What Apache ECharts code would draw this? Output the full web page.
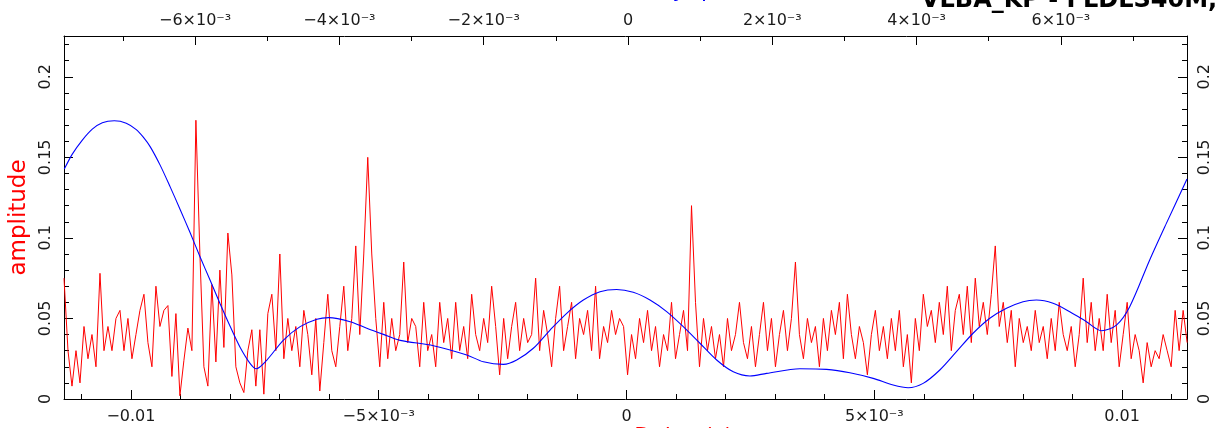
<!DOCTYPE html>
<html><head><meta charset="utf-8">
<script src="https://cdn.jsdelivr.net/npm/echarts@6/dist/echarts.min.js"></script>
<style>html,body{margin:0;padding:0;background:#fff}#c{width:1215px;height:428px}</style>
</head><body><div id="c"></div><script>
// red: amplitude sampled evenly across the bottom (delay) axis
const redAmp = [0.075,0.03,0.008,0.03,0.01,0.045,0.025,0.04,0.02,0.078,0.03,0.045,0.03,0.05,0.055,0.03,0.05,0.025,0.04,0.055,0.065,0.035,0.02,0.07,0.045,0.055,0.058,0.014,0.053,0.002,0.024,0.044,0.03,0.173,0.09,0.02,0.008,0.071,0.023,0.08,0.032,0.103,0.077,0.02,0.01,0.004,0.03,0.043,0.008,0.043,0.003,0.053,0.065,0.03,0.09,0.025,0.05,0.03,0.045,0.02,0.055,0.04,0.015,0.05,0.005,0.035,0.065,0.03,0.02,0.045,0.07,0.03,0.05,0.095,0.04,0.09,0.15,0.09,0.05,0.02,
0.06,0.025,0.05,0.03,0.04,0.085,0.035,0.05,0.045,0.02,0.06,0.03,0.04,0.02,0.06,0.035,0.05,0.025,0.06,0.03,0.045,0.025,0.065,0.04,0.03,0.05,0.035,0.07,0.045,0.015,0.05,0.025,0.045,0.06,0.03,0.05,0.035,0.04,0.075,0.03,0.055,0.04,0.02,0.05,0.07,0.03,0.045,0.06,0.025,0.05,0.04,0.055,0.03,0.07,0.025,0.045,0.035,0.055,0.04,0.05,0.045,0.015,0.04,0.025,0.05,0.035,0.055,0.03,0.045,0.02,0.04,0.03,0.06,0.025,0.04,0.055,0.03,0.12,0.06,0.02,0.05,0.03,0.045,0.025,0.04,0.02,0.05,0.03,0.04,0.06,0.035,0.025,0.045,0.02,0.04,0.06,0.03,0.05,0.02,0.04,0.055,0.03,0.05,0.085,0.04,0.025,0.05,0.035,0.045,0.02,0.05,0.03,0.055,0.04,0.06,0.025,0.065,0.04,0.025,0.045,0.035,0.015,0.04,0.055,0.03,0.045,0.025,0.05,0.03,0.055,0.02,0.04,0.01,0.05,0.03,0.065,0.045,0.055,0.035,0.06,0.04,0.07,0.03,0.055,0.065,0.04,0.07,0.035,0.075,0.045,0.06,0.04,0.065,0.095,0.045,0.06,0.035,0.055,0.02,0.05,0.035,0.045,0.03,0.055,0.035,0.045,0.025,0.05,0.03,0.06,0.04,0.03,0.045,0.02,0.04,0.075,0.035,0.06,0.03,0.05,0.03,0.065,0.035,0.055,0.02,0.04,0.06,0.025,0.04,0.03,0.01,0.035,0.02,0.03,0.025,0.04,0.03,0.02,0.055,0.03,0.055,0.035];
const redDelayFirst = -0.01135;
const redDelayStep = 0.00008065;

// blue: smooth curve against the top axis
const blueRate = [-0.007813,-0.007702,-0.007563,-0.007425,-0.007286,-0.007120,-0.006954,-0.006815,-0.006718,-0.006621,-0.006483,-0.006344,-0.006206,-0.006067,-0.005929,-0.005790,-0.005652,-0.005513,-0.005375,-0.005236,-0.005153,-0.005005,-0.004775,-0.004544,-0.004312,-0.004146,-0.003851,-0.003620,-0.003390,-0.003158,-0.002697,-0.002234,-0.002004,-0.001727,-0.001542,-0.001312,-0.001080,-0.000849,-0.000619,-0.000388,-0.000157,0.000073,0.000305,0.000536,0.000766,0.000997,0.001229,0.001459,0.001690,0.001921,0.002383,0.002752,0.003075,0.003398,0.003675,0.003883,0.004091,0.004322,0.004553,0.004783,0.005015,0.005246,0.005476,0.005661,0.005891,0.006123,0.006354,0.006562,0.006770,0.006954,0.007231,0.007462,0.007748];
const blueAmp = [0.1427,0.1520,0.1607,0.1675,0.1715,0.1727,0.1712,0.1672,0.1625,0.1565,0.1450,0.1315,0.1175,0.1030,0.0880,0.0735,0.0590,0.0450,0.0320,0.0220,0.0188,0.0242,0.0366,0.0449,0.0495,0.0505,0.0480,0.0439,0.0401,0.0364,0.0331,0.0273,0.0231,0.0215,0.0242,0.0315,0.0428,0.0532,0.0614,0.0666,0.0680,0.0662,0.0614,0.0542,0.0449,0.0346,0.0242,0.0169,0.0143,0.0159,0.0188,0.0184,0.0163,0.0128,0.0087,0.0070,0.0097,0.0180,0.0294,0.0408,0.0501,0.0563,0.0604,0.0614,0.0594,0.0542,0.0480,0.0424,0.0459,0.0573,0.0863,0.1090,0.1365];

const bottomRange = [-0.01135, 0.01131];
const topRange = [-0.007817, 0.007748];
const yRange = [0, 0.2253];

const bottomMajor = [-0.01, -0.005, 0, 0.005, 0.01];
const bottomLabels = ['\u22120.01', '\u22125\u00d710\u207b\u00b3', '0', '5\u00d710\u207b\u00b3', '0.01'];
const bottomMinor = [-0.011,-0.009,-0.008,-0.007,-0.006,-0.004,-0.003,-0.002,-0.001,0.001,0.002,0.003,0.004,0.006,0.007,0.008,0.009,0.011];
const topMajor = [-0.006, -0.004, -0.002, 0, 0.002, 0.004, 0.006];
const topLabels = ['\u22126\u00d710\u207b\u00b3','\u22124\u00d710\u207b\u00b3','\u22122\u00d710\u207b\u00b3','0','2\u00d710\u207b\u00b3','4\u00d710\u207b\u00b3','6\u00d710\u207b\u00b3'];
const topMinor = [-0.007,-0.005,-0.003,-0.001,0.001,0.003,0.005,0.007];
const yMajor = [0, 0.05, 0.1, 0.15, 0.2];
const yLabels = ['0', '0.05', '0.1', '0.15', '0.2'];
const yMinor = [0.01,0.02,0.03,0.04,0.06,0.07,0.08,0.09,0.11,0.12,0.13,0.14,0.16,0.17,0.18,0.19,0.21,0.22];

const titleText = 'VLBA_KP - FLDLS40M, ';
const topAxisTitle = 'Delay (ps/s)';
const bottomAxisTitle = 'Delay (s)';
const yAxisTitle = 'amplitude';

const FONT = 'DejaVu Sans';
const LBL = { color: '#1a1a1a', fontFamily: FONT, fontSize: 16 };

function pick(vals, labels) {
  return function (v) {
    let b = 0;
    for (let i = 1; i < vals.length; i++) if (Math.abs(vals[i] - v) < Math.abs(vals[b] - v)) b = i;
    return labels[b];
  };
}
function xAx(pos, range, ticks, len, labels, showLine, margin) {
  return {
    type: 'value', position: pos, min: range[0], max: range[1],
    splitLine: { show: false },
    axisLine: { show: showLine, onZero: false, lineStyle: { color: '#000', width: 1 } },
    axisTick: { show: true, inside: true, length: len, customValues: ticks, lineStyle: { color: '#000', width: 1 } },
    axisLabel: labels ? Object.assign({ show: true, customValues: ticks, margin: margin, formatter: pick(ticks, labels) }, LBL) : { show: false }
  };
}
function yAx(pos, ticks, len, labels, showLine) {
  return {
    type: 'value', position: pos, min: yRange[0], max: yRange[1],
    splitLine: { show: false },
    axisLine: { show: showLine, onZero: false, lineStyle: { color: '#000', width: 1 } },
    axisTick: { show: true, inside: true, length: len, customValues: ticks, lineStyle: { color: '#000', width: 1 } },
    axisLabel: labels ? Object.assign({ show: true, customValues: ticks, rotate: 90, margin: 10, formatter: pick(ticks, labels) }, LBL) : { show: false }
  };
}

const redData = redAmp.map((a, i) => [redDelayFirst + i * redDelayStep, a]);
const blueData = blueRate.map((r, i) => [r, blueAmp[i]]);

const chart = echarts.init(document.getElementById('c'), null, { renderer: 'canvas' });
chart.setOption({
  animation: false,
  backgroundColor: '#fff',
  grid: { left: 64, right: 28, top: 36, bottom: 29, containLabel: false },
  xAxis: [
    xAx('bottom', bottomRange, bottomMajor, 9, bottomLabels, true, 10),
    xAx('bottom', bottomRange, bottomMinor, 5, null, false, 0),
    xAx('top', topRange, topMajor, 9, topLabels, true, 7),
    xAx('top', topRange, topMinor, 5, null, false, 0)
  ],
  yAxis: [
    yAx('left', yMajor, 9, yLabels, true),
    yAx('left', yMinor, 5, null, false),
    yAx('right', yMajor, 9, yLabels, true),
    yAx('right', yMinor, 5, null, false)
  ],
  series: [
    { type: 'line', xAxisIndex: 0, yAxisIndex: 0, data: redData, showSymbol: false, symbol: 'none',
      lineStyle: { color: '#ff0000', width: 1 }, clip: true },
    { type: 'line', xAxisIndex: 2, yAxisIndex: 0, data: blueData, showSymbol: false, symbol: 'none', smooth: 0.3,
      lineStyle: { color: '#0000ff', width: 1.1 }, clip: true }
  ],
  graphic: [
    { type: 'text', style: { text: titleText, x: 921, y: 1, font: 'bold 24px "DejaVu Sans"', fill: '#000', align: 'left', verticalAlign: 'middle' } },
    { type: 'text', style: { text: topAxisTitle, x: 754, y: -8.5, font: '22px "DejaVu Sans"', fill: '#0000ff', align: 'right', verticalAlign: 'middle' } },
    { type: 'text', style: { text: bottomAxisTitle, x: 733, y: 437, font: '22px "DejaVu Sans"', fill: '#ff0000', align: 'right', verticalAlign: 'middle' } },
    { type: 'text', rotation: Math.PI / 2, x: 19, y: 217.5, style: { text: yAxisTitle, x: 0, y: 0, font: '23px "DejaVu Sans"', fill: '#ff0000', align: 'center', verticalAlign: 'middle' } }
  ]
});
</script></body></html>
